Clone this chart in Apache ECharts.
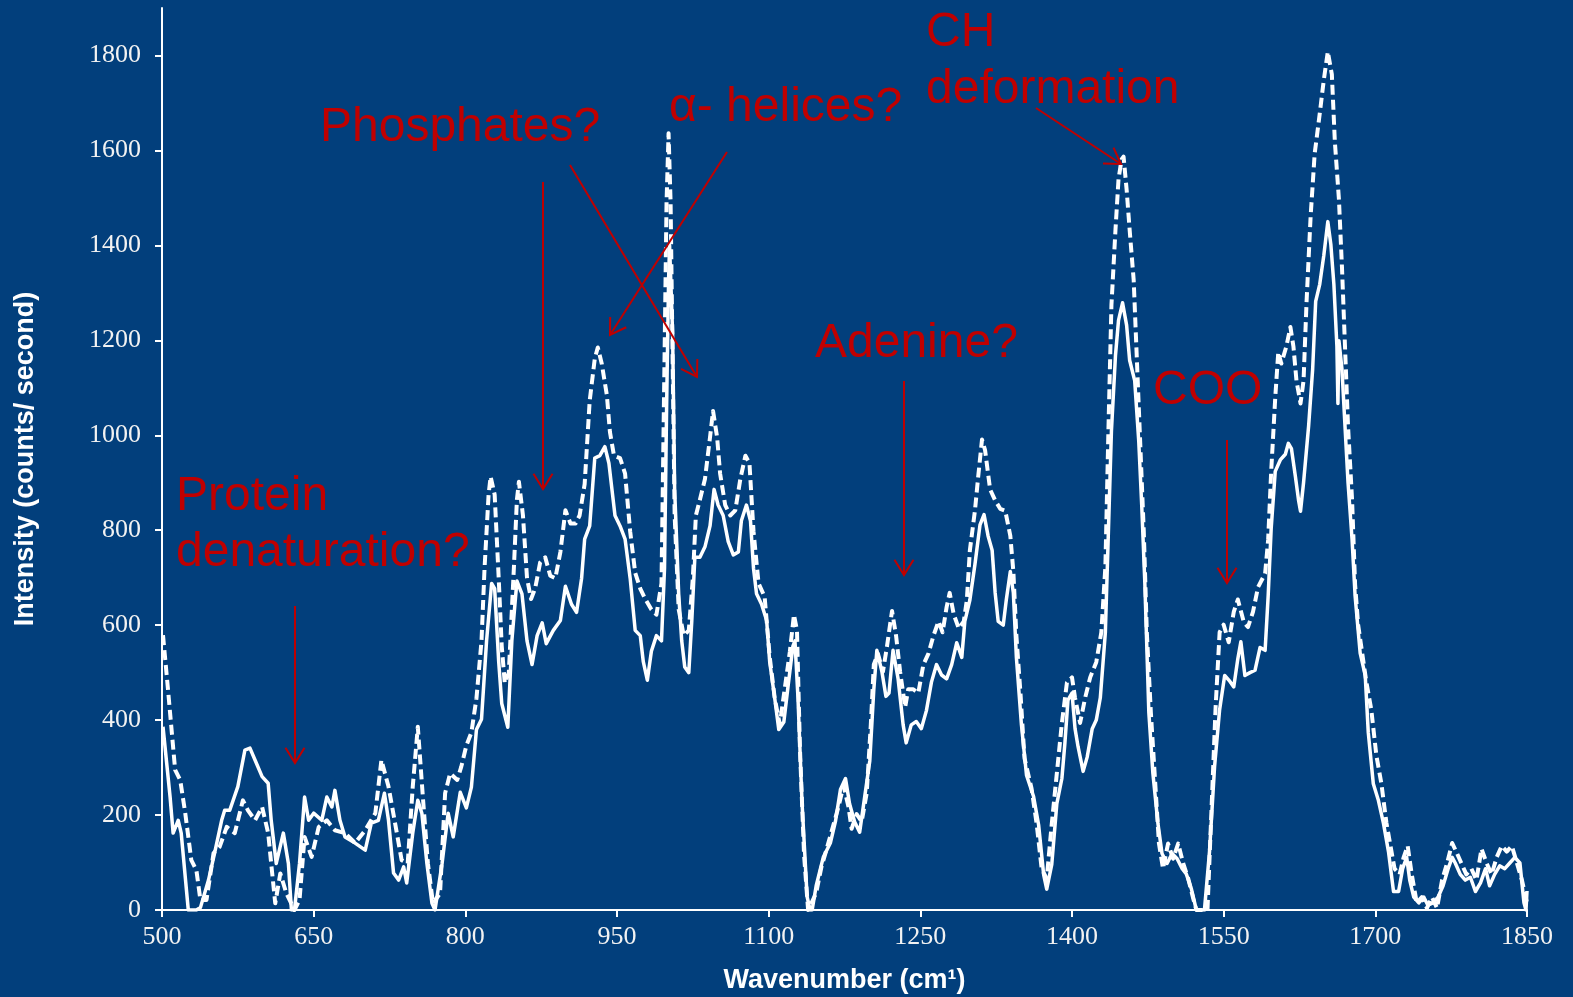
<!DOCTYPE html>
<html>
<head>
<meta charset="utf-8">
<script src="https://cdn.jsdelivr.net/npm/echarts@6/dist/echarts.min.js"></script>
<style>
html,body{margin:0;padding:0;background:#023f7c;}
#chart{width:1573px;height:997px;}
</style>
</head>
<body>
<div id="chart"></div>
<script>
// Wavenumber (cm-1) and intensity (counts/second) for the solid trace
const solidX = [501,508,511,516,519,526,534,538,546,552,559,562,567,575,582,587,592,599,605,608,613,620,625,628,631,636,641,645,650,658,663,668,671,676,681,691,701,707,714,720,724,729,734,739,742,748,753,757,762,767,770,777,783,788,795,801,806,811,816,821,826,829,833,836,842,846,851,856,861,866,871,876,880,887,894,899,905,910,915,918,923,928,933,938,942,945,948,953,958,963,968,973,976,980,984,989,994,997,999,1001,1002,1005,1007,1011,1014,1017,1021,1024,1027,1032,1037,1042,1046,1050,1055,1060,1065,1070,1073,1078,1082,1085,1088,1093,1098,1101,1106,1110,1115,1119,1124,1126,1129,1133,1138,1141,1143,1147,1154,1161,1166,1171,1176,1180,1185,1190,1195,1200,1204,1207,1212,1216,1219,1223,1228,1233,1236,1241,1246,1251,1256,1261,1266,1271,1276,1281,1286,1291,1294,1299,1304,1309,1313,1317,1321,1324,1327,1332,1335,1339,1342,1345,1350,1355,1362,1367,1372,1375,1380,1385,1390,1393,1396,1400,1403,1406,1411,1415,1420,1424,1428,1433,1436,1439,1443,1446,1450,1454,1457,1462,1466,1469,1472,1476,1480,1485,1489,1494,1499,1504,1509,1513,1518,1523,1531,1536,1541,1546,1551,1556,1560,1564,1567,1571,1576,1581,1586,1591,1594,1597,1601,1606,1611,1614,1617,1621,1624,1626,1629,1634,1638,1641,1645,1649,1653,1656,1659,1662,1663,1664,1667,1670,1673,1677,1680,1685,1690,1693,1698,1703,1708,1713,1718,1723,1727,1731,1734,1738,1743,1748,1752,1757,1762,1767,1772,1776,1779,1784,1789,1794,1799,1804,1809,1813,1818,1823,1828,1833,1838,1843,1847,1849,1850];
const solidY = [386,238,162,189,162,0,0,5,63,120,189,210,210,260,337,341,316,281,267,189,98,162,98,0,0,98,238,189,204,189,238,217,252,189,154,141,126,183,189,246,189,78,63,91,57,162,231,204,98,14,0,98,204,154,248,215,259,380,402,567,688,677,523,435,385,567,693,666,567,517,578,605,561,589,610,682,644,627,699,781,809,952,957,976,941,886,831,809,781,699,589,578,523,484,545,578,567,720,1050,1326,1400,1215,886,666,567,512,500,610,743,743,765,809,886,853,831,776,748,754,820,853,820,720,666,644,610,523,446,380,396,468,556,567,446,226,28,0,0,51,111,141,186,254,277,224,186,164,239,314,465,547,502,450,457,547,487,390,352,390,397,382,420,480,517,495,487,517,563,532,608,653,728,811,833,788,758,668,608,600,653,713,668,532,390,284,239,179,74,44,96,224,277,352,442,457,382,344,292,322,382,400,447,585,797,1009,1168,1242,1279,1232,1158,1115,988,850,691,416,288,182,119,98,119,108,87,76,45,0,0,123,302,422,494,482,470,529,565,494,500,505,553,547,661,804,924,948,960,983,972,912,864,840,900,1019,1139,1282,1318,1378,1450,1402,1318,1187,1067,1199,1139,1019,900,780,661,541,494,374,266,231,183,123,39,39,87,111,63,27,15,27,10,15,27,51,87,111,99,75,63,69,39,57,87,51,75,93,87,99,111,99,15,0,40];

// Wavenumber (cm-1) and intensity (counts/second) for the dashed trace
const dashedX = [501,506,513,518,523,529,534,538,544,551,557,564,572,580,585,592,599,605,608,612,617,623,631,636,641,648,655,663,671,681,691,701,711,717,724,730,737,743,748,753,758,763,768,775,780,785,792,796,801,806,811,816,819,823,825,829,833,836,839,843,848,851,853,857,861,865,869,874,879,884,889,894,899,904,909,913,918,923,928,931,935,940,943,947,953,958,963,968,973,978,984,989,994,997,999,1001,1003,1005,1007,1011,1016,1021,1025,1028,1032,1037,1042,1045,1049,1052,1057,1062,1067,1072,1077,1081,1085,1090,1096,1101,1106,1111,1116,1121,1125,1128,1131,1135,1139,1147,1152,1157,1164,1169,1174,1179,1182,1187,1192,1197,1201,1204,1208,1213,1217,1222,1226,1230,1235,1238,1243,1248,1253,1258,1263,1268,1272,1276,1279,1283,1288,1293,1296,1299,1304,1307,1311,1314,1319,1324,1329,1334,1339,1342,1345,1349,1353,1360,1365,1370,1375,1380,1385,1390,1395,1400,1403,1408,1413,1418,1424,1429,1433,1436,1439,1443,1446,1449,1451,1454,1457,1461,1464,1467,1471,1474,1478,1482,1486,1490,1495,1500,1505,1510,1515,1520,1523,1534,1538,1542,1546,1550,1555,1560,1564,1570,1574,1579,1584,1591,1594,1597,1601,1604,1607,1612,1616,1619,1622,1626,1629,1632,1636,1640,1645,1649,1653,1657,1660,1664,1667,1670,1673,1677,1680,1683,1687,1691,1696,1701,1706,1711,1715,1719,1724,1728,1732,1736,1741,1746,1751,1756,1761,1766,1771,1776,1780,1785,1790,1795,1800,1805,1810,1815,1820,1825,1830,1835,1840,1845,1850];
const dashedY = [579,463,295,274,204,105,84,21,21,120,133,175,162,231,210,189,217,162,98,14,77,35,0,21,154,112,175,189,168,162,141,168,204,316,260,189,105,98,260,386,238,98,14,35,246,288,274,302,346,374,446,567,720,875,913,875,699,556,478,500,720,864,902,831,699,655,677,732,743,704,699,754,842,814,814,831,897,1073,1161,1185,1150,1084,1007,957,952,919,798,710,677,655,633,622,688,1161,1491,1636,1491,1161,831,633,578,589,699,831,864,908,996,1051,996,919,853,831,842,908,957,941,798,688,660,534,446,391,468,545,622,589,336,116,0,36,89,126,179,217,262,217,171,202,186,247,390,517,540,502,555,630,578,502,427,465,465,457,517,540,578,608,585,638,668,623,593,608,653,758,841,908,991,969,886,863,845,841,788,713,578,458,320,256,182,87,66,182,288,394,479,490,447,394,447,490,522,585,723,1009,1274,1433,1539,1581,1587,1518,1433,1327,1168,1009,797,585,416,278,140,87,140,108,140,98,66,23,0,0,214,426,585,601,564,628,654,606,596,628,680,709,780,924,1079,1175,1151,1187,1228,1187,1115,1067,1115,1282,1461,1593,1677,1748,1808,1760,1617,1497,1354,1187,1019,864,685,601,541,482,422,326,266,183,135,87,75,111,135,75,15,27,4,27,4,63,99,141,123,99,75,87,63,129,99,75,111,135,123,135,99,63,15];

// Axis ticks
const xTicks = [500,650,800,950,1100,1250,1400,1550,1700,1850];
const yTicks = [0,200,400,600,800,1000,1200,1400,1600,1800];

// Annotation texts
const notes = ['Protein','denaturation?','Phosphates?','α- helices?','CH','deformation','Adenine?','COO'];

const RED = '#c00000';
const AX = '#ffffff';
const serif = "'Times New Roman','Liberation Serif',serif";
const sans = "Arial,'Liberation Sans',sans-serif";

function zip(xs, ys){ return xs.map((x,i)=>[x, ys[i]]); }

function arrow(x1,y1,x2,y2){
  const ang = Math.atan2(y2-y1, x2-x1);
  const L = 18, a = 32*Math.PI/180;
  const p1 = [x2 - L*Math.cos(ang-a), y2 - L*Math.sin(ang-a)];
  const p2 = [x2 - L*Math.cos(ang+a), y2 - L*Math.sin(ang+a)];
  return [
    {type:'line', shape:{x1:x1,y1:y1,x2:x2,y2:y2}, style:{stroke:RED, lineWidth:2}, z:100},
    {type:'polyline', shape:{points:[p1,[x2,y2],p2]}, style:{stroke:RED, lineWidth:2, fill:null}, z:100}
  ];
}
function note(text, x, y){
  return {type:'text', x:x, y:y, z:100, style:{text:text, font:'48px '+sans, fill:RED, verticalAlign:'middle', align:'left'}};
}

const graphics = [].concat(
  arrow(295,606,295,763),
  arrow(543,182,543,489),
  arrow(570,165,697,377),
  arrow(727,152,610,335),
  arrow(904,381,904,575),
  arrow(1036,108,1121,164),
  arrow(1227,440,1227,583),
  [
    note(notes[0],176,497),
    note(notes[1],176,553),
    note(notes[2],320,128),
    note(notes[3],669,108),
    note(notes[4],926,33),
    note(notes[5],926,90),
    note(notes[6],815,344),
    note(notes[7],1153,391)
  ]
);

const plain = v => String(v);

const chart = echarts.init(document.getElementById('chart'), null, {renderer:'canvas'});
chart.setOption({
  backgroundColor:'#023f7c',
  animation:false,
  grid:{left:162, right:46, top:8, bottom:87, containLabel:false, outerBoundsMode:'none'},
  xAxis:{
    type:'value', min:500, max:1850, interval:150,
    name:'Wavenumber (cm¹)', nameLocation:'middle', nameGap:57,
    nameTextStyle:{color:'#ffffff', fontFamily:sans, fontWeight:'bold', fontSize:27},
    axisLine:{show:true, onZero:false, lineStyle:{color:AX, width:2}},
    axisTick:{show:true, length:7, inside:false, lineStyle:{color:AX, width:2}, customValues:xTicks},
    axisLabel:{color:'#f2f2f2', fontFamily:serif, fontSize:26, margin:14, customValues:xTicks, formatter:plain},
    splitLine:{show:false}
  },
  yAxis:{
    type:'value', min:0, max:1900, interval:200,
    name:'Intensity (counts/ second)', nameLocation:'middle', nameGap:123, nameRotate:90,
    nameTextStyle:{color:'#ffffff', fontFamily:sans, fontWeight:'bold', fontSize:27},
    axisLine:{show:true, lineStyle:{color:AX, width:2}},
    axisTick:{show:true, length:7, inside:false, lineStyle:{color:AX, width:2}, customValues:yTicks},
    axisLabel:{color:'#f2f2f2', fontFamily:serif, fontSize:26, margin:21, customValues:yTicks, formatter:plain},
    splitLine:{show:false}
  },
  series:[
    {type:'line', name:'solid', data:zip(solidX, solidY), showSymbol:false, symbol:'none', clip:true,
     lineStyle:{color:'#ffffff', width:3.5, type:'solid', join:'round'}},
    {type:'line', name:'dashed', data:zip(dashedX, dashedY), showSymbol:false, symbol:'none', clip:true,
     lineStyle:{color:'#ffffff', width:4, type:[10,5], join:'round'}}
  ],
  graphic:graphics
});
</script>
</body>
</html>
